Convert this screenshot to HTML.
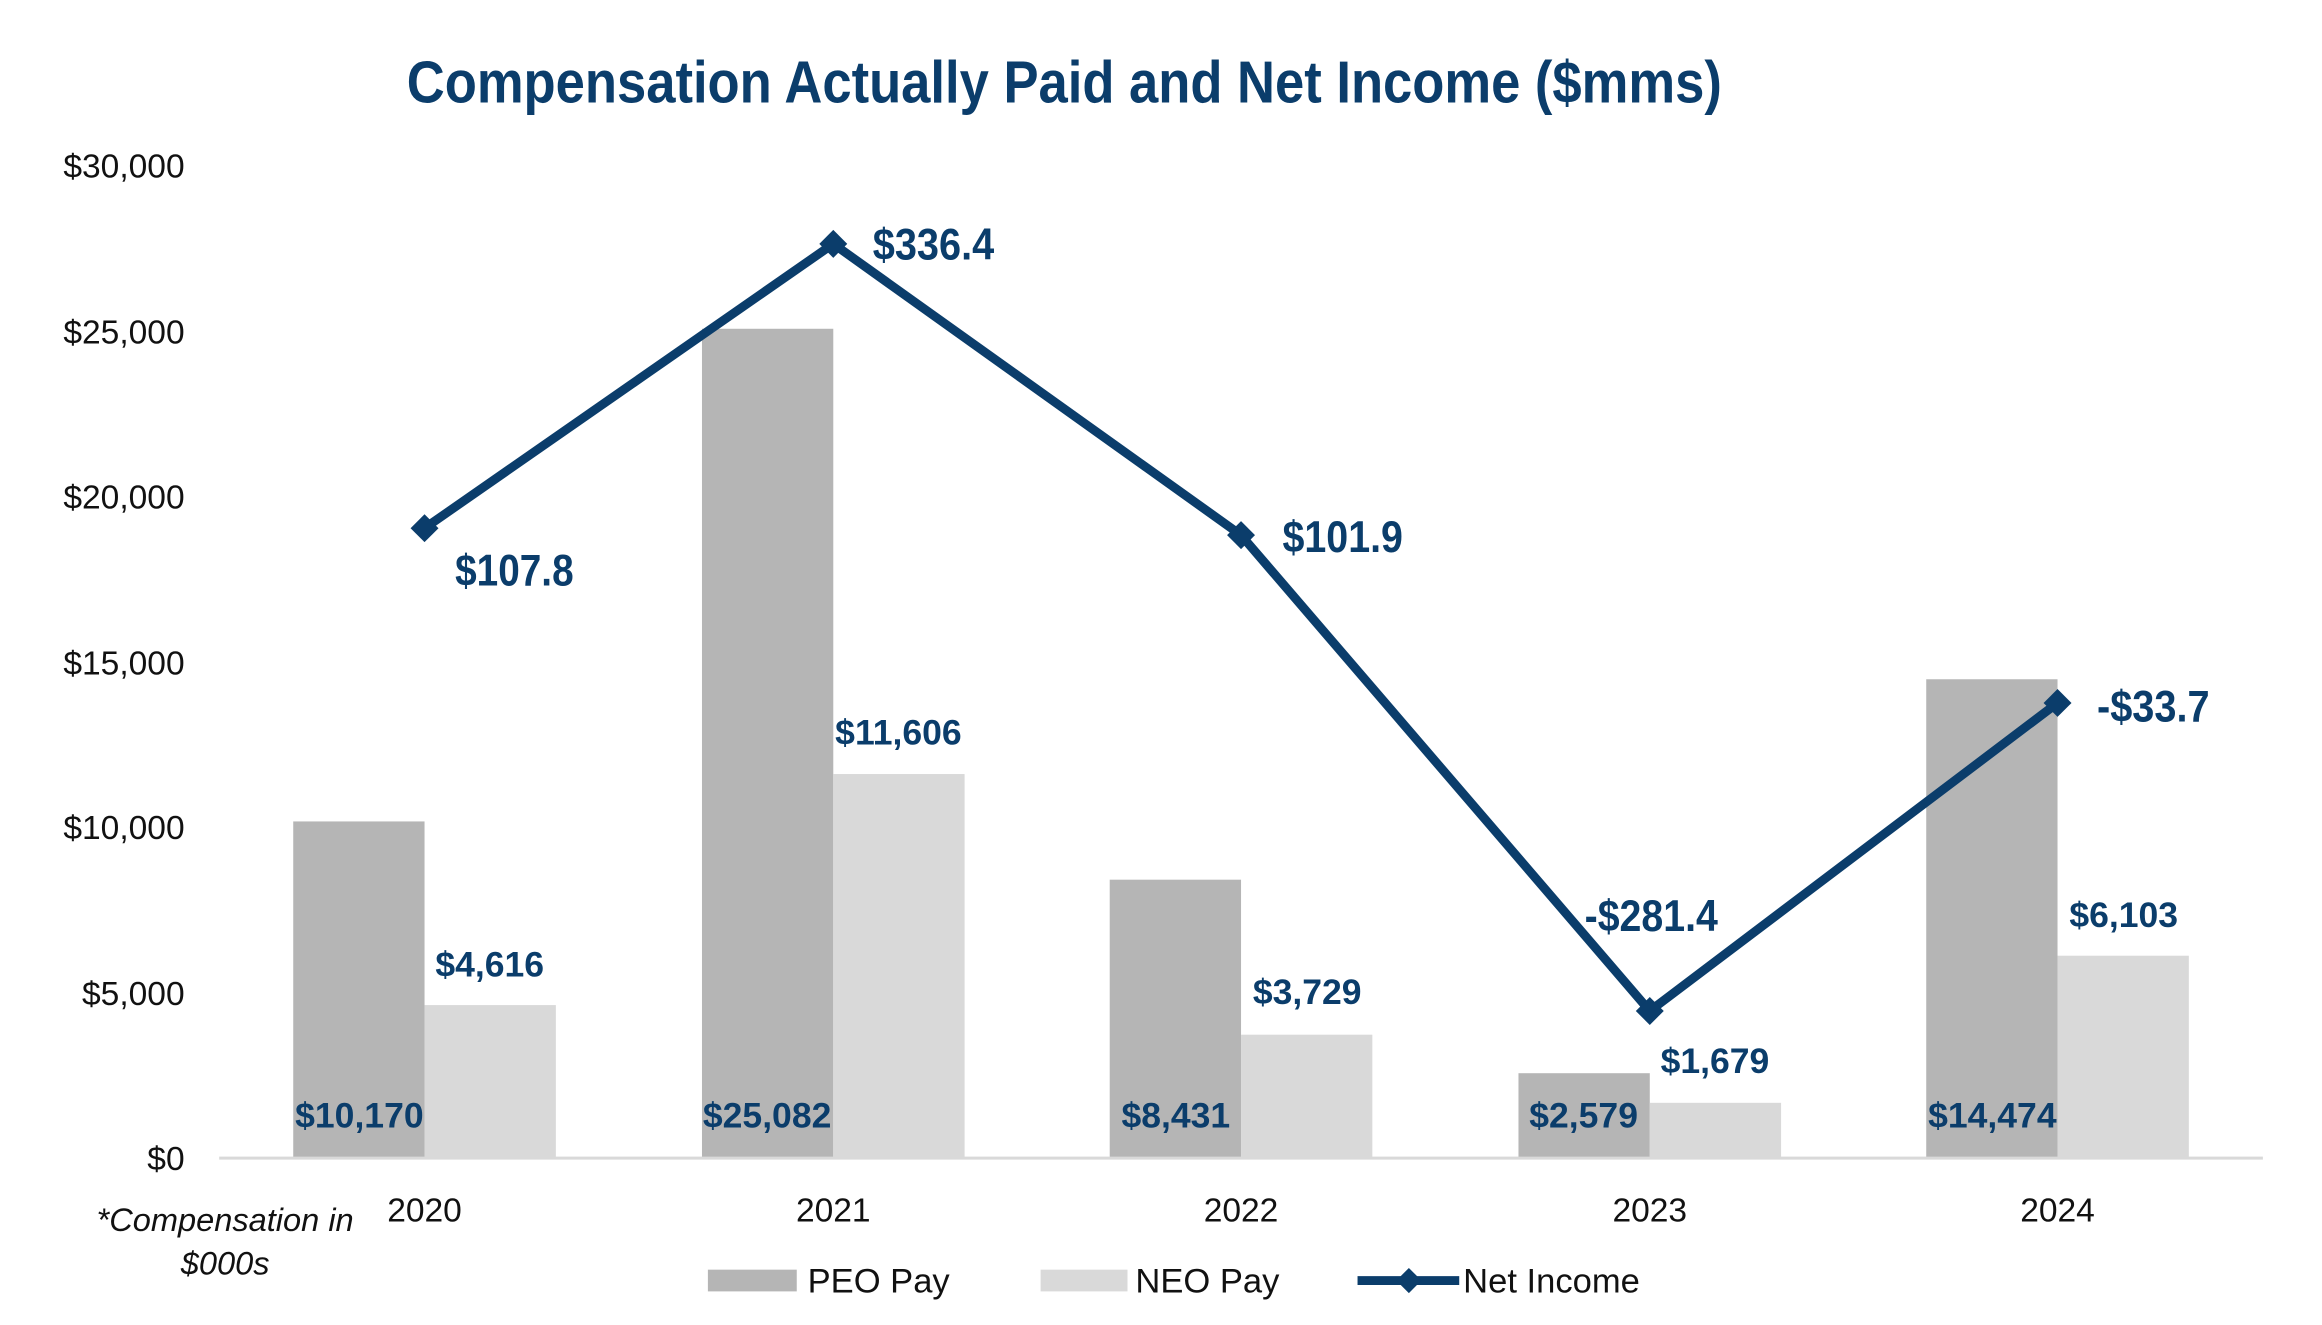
<!DOCTYPE html>
<html><head><meta charset="utf-8"><style>
html,body{margin:0;padding:0;background:#fff;}
svg{display:block;}
.n{font-family:"Liberation Sans Narrow","Liberation Sans",sans-serif;}
</style></head><body>
<svg width="2322" height="1325" viewBox="0 0 2322 1325" xmlns="http://www.w3.org/2000/svg">
<g transform="scale(0.9873)">
<text x="412" y="104" textLength="1332" lengthAdjust="spacingAndGlyphs" class="n" font-size="60" font-weight="bold" fill="#0b3d6b">Compensation Actually Paid and Net Income ($mms)</text>
<g font-family="Liberation Sans, sans-serif" font-size="34" fill="#111" text-anchor="end">
<text x="187" y="1185">$0</text>
<text x="187" y="1018">$5,000</text>
<text x="187" y="850">$10,000</text>
<text x="187" y="683">$15,000</text>
<text x="187" y="515">$20,000</text>
<text x="187" y="348">$25,000</text>
<text x="187" y="180">$30,000</text>
</g>
<g fill="#b5b5b5">
<rect x="297" y="832" width="133" height="341"/>
<rect x="711" y="333" width="133" height="840"/>
<rect x="1124" y="891" width="133" height="282"/>
<rect x="1538" y="1087" width="133" height="86"/>
<rect x="1951" y="688" width="133" height="485"/>
</g>
<g fill="#d9d9d9">
<rect x="430" y="1018" width="133" height="155"/>
<rect x="844" y="784" width="133" height="389"/>
<rect x="1257" y="1048" width="133" height="125"/>
<rect x="1671" y="1117" width="133" height="56"/>
<rect x="2084" y="968" width="133" height="205"/>
</g>
<line x1="222" y1="1173" x2="2292" y2="1173" stroke="#d9d9d9" stroke-width="3"/>
<polyline points="430,535 844,247 1257,542 1671,1024 2084,712" fill="none" stroke="#0b3d6b" stroke-width="9" stroke-linejoin="miter"/>
<g fill="#0b3d6b">
<rect x="420" y="525" width="20" height="20" transform="rotate(45 430 535)"/>
<rect x="834" y="237" width="20" height="20" transform="rotate(45 844 247)"/>
<rect x="1247" y="532" width="20" height="20" transform="rotate(45 1257 542)"/>
<rect x="1661" y="1014" width="20" height="20" transform="rotate(45 1671 1024)"/>
<rect x="2074" y="702" width="20" height="20" transform="rotate(45 2084 712)"/>
</g>
<g class="n" font-weight="bold" fill="#0b3d6b" font-size="45">
<text x="461" y="593" textLength="120" lengthAdjust="spacingAndGlyphs">$107.8</text>
<text x="884" y="263" textLength="123" lengthAdjust="spacingAndGlyphs">$336.4</text>
<text x="1299" y="559" textLength="122" lengthAdjust="spacingAndGlyphs">$101.9</text>
<text x="1605" y="943" textLength="135" lengthAdjust="spacingAndGlyphs">-$281.4</text>
<text x="2124" y="731" textLength="114" lengthAdjust="spacingAndGlyphs">-$33.7</text>
</g>
<g class="n" font-weight="bold" fill="#0b3d6b" font-size="36" text-anchor="middle">
<text x="364" y="1142">$10,170</text>
<text x="777" y="1142">$25,082</text>
<text x="1191" y="1142">$8,431</text>
<text x="1604" y="1142">$2,579</text>
<text x="2018" y="1142">$14,474</text>
<text x="496" y="989">$4,616</text>
<text x="910" y="754">$11,606</text>
<text x="1324" y="1017">$3,729</text>
<text x="1737" y="1087">$1,679</text>
<text x="2151" y="939">$6,103</text>
</g>
<g font-family="Liberation Sans, sans-serif" font-size="34" fill="#111" text-anchor="middle">
<text x="430" y="1237">2020</text>
<text x="844" y="1237">2021</text>
<text x="1257" y="1237">2022</text>
<text x="1671" y="1237">2023</text>
<text x="2084" y="1237">2024</text>
</g>
<g font-family="Liberation Sans, sans-serif" font-size="33" font-style="italic" fill="#111" text-anchor="middle">
<text x="228" y="1247">*Compensation in</text>
<text x="228" y="1291">$000s</text>
</g>
<rect x="717" y="1286" width="90" height="22" fill="#b5b5b5"/>
<text x="818" y="1309" font-family="Liberation Sans, sans-serif" font-size="35" fill="#111">PEO Pay</text>
<rect x="1054" y="1286" width="88" height="22" fill="#d9d9d9"/>
<text x="1150" y="1309" font-family="Liberation Sans, sans-serif" font-size="35" fill="#111">NEO Pay</text>
<line x1="1375" y1="1297" x2="1478" y2="1297" stroke="#0b3d6b" stroke-width="9"/>
<rect x="1418" y="1288" width="18" height="18" fill="#0b3d6b" transform="rotate(45 1427 1297)"/>
<text x="1482" y="1309" font-family="Liberation Sans, sans-serif" font-size="35" fill="#111">Net Income</text>
</g>
</svg>
</body></html>
